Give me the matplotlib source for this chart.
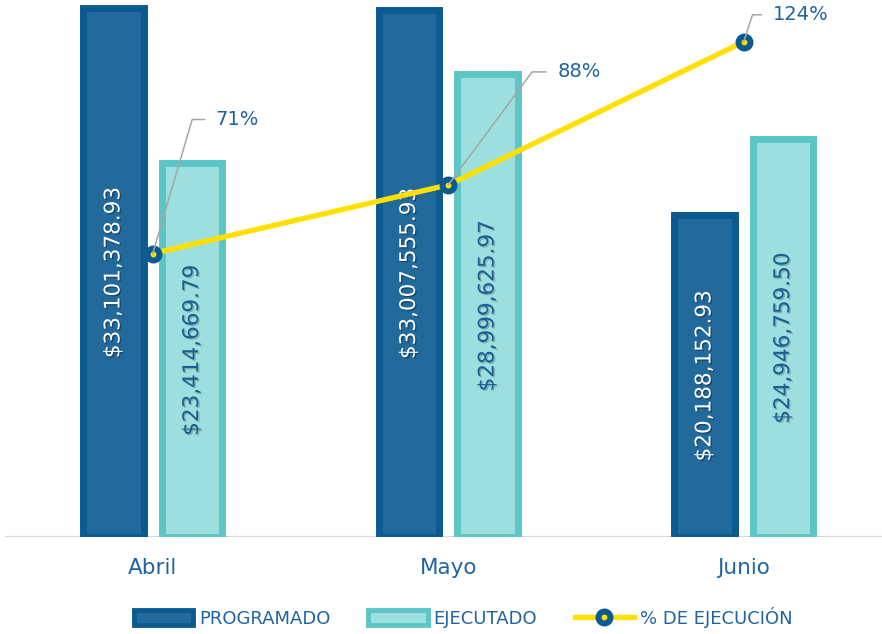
import numpy as np
import matplotlib
matplotlib.use('Agg')
import matplotlib.pyplot as plt
import matplotlib.patheffects as pe
from matplotlib.patches import Patch
from matplotlib.lines import Line2D

# data
meses=['Abril','Mayo','Junio']
programado=[33101378.93,33007555.93,20188152.93]
ejecutado=[23414669.79,28999625.97,24946759.50]
pct_ejecucion=[0.7074,0.8786,1.2357]
pct_labels=['71%','88%','124%']
leyenda=['PROGRAMADO','EJECUTADO','% DE EJECUCIÓN']

# colours
prog_edge='#0b5a92'
prog_fill='#22699c'
ejec_edge='#5cc6c6'
ejec_fill='#9ddede'
amarillo='#ffe000'
azul_txt='#1f64a0'

fig=plt.figure(figsize=(8.82,6.34),dpi=100)
ax=fig.add_axes([5/882.,97/634.,877/882.,537/634.])
x=np.arange(len(meses))
w=0.206
off=0.133

ax.bar(x-off,programado,width=w,color=prog_fill,edgecolor=prog_edge,linewidth=5.0,zorder=3)
ax.bar(x+off,ejecutado,width=w,color=ejec_fill,edgecolor=ejec_edge,linewidth=5.0,zorder=3)
ax.axhline(0,color='#d9d9d9',lw=1.6,zorder=2)

ax.set_xlim(-0.5,-0.5+877/295.5)
ax.set_ylim(0,33.63e6)
for s in ax.spines.values():
  s.set_visible(False)
ax.set_yticks([])
ax.set_xticks(x)
ax.set_xticklabels(meses,fontsize=15.5,color=azul_txt)
ax.tick_params(axis='x',length=0,pad=15)

# value labels inside bars
for i in range(len(meses)):
  ax.text(x[i]-off,programado[i]/2,'${:,.2f}'.format(programado[i]),rotation=90,ha='center',va='center',
    fontsize=15.5,color='white',zorder=4,
    path_effects=[pe.SimplePatchShadow(offset=(1,-1),shadow_rgbFace='k',alpha=0.3),pe.Normal()])
  ax.text(x[i]+off,ejecutado[i]/2,'${:,.2f}'.format(ejecutado[i]),rotation=90,ha='center',va='center',
    fontsize=15.5,color='#1b5e93',zorder=4,
    path_effects=[pe.SimplePatchShadow(offset=(1,-1),shadow_rgbFace='k',alpha=0.2),pe.Normal()])

# percentage line
ax2=ax.twinx()
ax2.set_ylim(0,1.34)
ax2.set_yticks([])
for s in ax2.spines.values():
  s.set_visible(False)
ax2.plot(x,pct_ejecucion,color=amarillo,lw=3.8,marker='o',ms=8.6,mfc=amarillo,mec=prog_edge,mew=4.3,zorder=3)

offsets=[(63,134),(109,113),(29,27)]
angulos=[73.6,53.4,72]
for i in range(len(meses)):
  ax2.annotate(pct_labels[i],xy=(x[i],pct_ejecucion[i]),xytext=offsets[i],textcoords='offset pixels',
    ha='left',va='center',fontsize=14,color=azul_txt,zorder=5,
    arrowprops=dict(arrowstyle='-',color='#a6a6a6',lw=1.1,shrinkA=6,shrinkB=0,
      connectionstyle='angle,angleA=0,angleB=%g,rad=0'%angulos[i]))

handles=[Patch(facecolor=prog_fill,edgecolor=prog_edge,linewidth=3.5),
  Patch(facecolor=ejec_fill,edgecolor=ejec_edge,linewidth=3.5),
  Line2D([0],[0],color=amarillo,lw=3.8,marker='o',ms=8.6,mfc=amarillo,mec=prog_edge,mew=4.3)]
fig.legend(handles,leyenda,loc='center',bbox_to_anchor=(0.525,17/634.),ncol=3,frameon=False,
  fontsize=13,labelcolor=azul_txt,handlelength=3.3,handleheight=0.9,handletextpad=0.3,columnspacing=2.1)

plt.savefig('out.png',dpi=100)
